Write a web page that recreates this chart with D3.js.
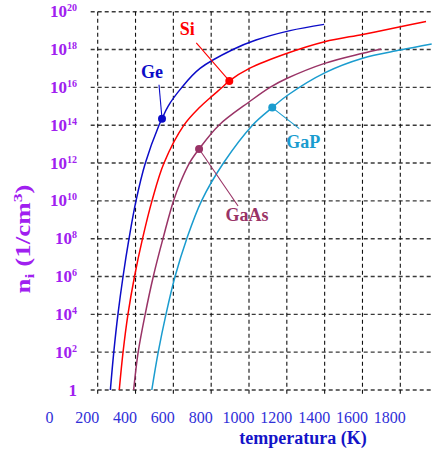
<!DOCTYPE html>
<html>
<head>
<meta charset="utf-8">
<script src="https://cdn.jsdelivr.net/npm/d3@7"></script>
<style>
    body { margin: 0; background: #fff; }
    svg { display: block; }
</style>
</head>
<body>
<div id="chart"></div>
<script>
// values: [temperature K, log10 ni]
const ge   = [[267,0],[285,2],[307,4],[334,6],[365.5,8],[402.5,10],[452,12],[524,14],[540,14.34],[572,15],[645,16],[741,17],[915,18],[1037,18.5],[1217,19],[1397,19.33]];
const si   = [[314,0],[334,2],[360,4],[394.6,6],[437,8],[487,10],[550.6,12],[656,14],[741,14.96],[799,15.49],[857,15.99],[895.8,16.34],[1002,17],[1202,17.8],[1400,18.41],[1601,18.8],[1800,19.2],[1936,19.48]];
const gaas = [[390,0],[414,2],[451,4],[494,6],[545,8],[601,10],[638,11],[685,12],[736,12.74],[841,14],[1002,15.24],[1111,16],[1202,16.48],[1400,17.27],[1601,17.8],[1698,18.03]];
const gap  = [[486,0],[520,2],[561,4],[609,6],[671,8],[749,10],[865,12],[1018.5,14],[1123,14.93],[1202,15.57],[1403,16.78],[1601,17.54],[1800,17.97],[1966,18.29]];

// marked points on each curve
const markers = [
    { name: "Ge",   T: 540,   e: 14.34 },
    { name: "Si",   T: 895.8, e: 16.34 },
    { name: "GaAs", T: 736,   e: 12.74 },
    { name: "GaP",  T: 1123,  e: 14.93 }
];

const xTicks = [0, 200, 400, 600, 800, 1000, 1200, 1400, 1600, 1800];
const yExps  = [0, 2, 4, 6, 8, 10, 12, 14, 16, 18, 20];

const colors = { Ge: "#0c0cc8", Si: "#ff0000", GaAs: "#993366", GaP: "#1a9ccf" };
// leader end / label offsets from the marker (px)
const callout = {
    Ge:   { lx: -3,   ly: -34,  tx: -10, ty: -41 },
    Si:   { lx: -33,  ly: -38,  tx: -42, ty: -46 },
    GaAs: { lx: 39,   ly: 57,   tx: 48,  ty: 72 },
    GaP:  { lx: 27,   ly: 21,   tx: 31,  ty: 40 }
};

const W = 433, H = 450;
const serif = "'Liberation Serif', 'Times New Roman', serif";

const svg = d3.select("#chart").append("svg")
    .attr("width", W)
    .attr("height", H);

const x = d3.scaleLinear().domain([200, 1800]).range([97.7, 400.3]);
const y = d3.scaleLog().domain([1, 1e20]).range([390, 11.7]);
const py = e => y(Math.pow(10, e));

// =============================
// GRID
// =============================
svg.append("g")
    .selectAll("line")
    .data(yExps)
    .enter()
    .append("line")
    .attr("x1", 90.7).attr("x2", W)
    .attr("y1", d => py(d)).attr("y2", d => py(d))
    .attr("stroke", "#3a3a3a")
    .attr("stroke-width", 1.4)
    .attr("stroke-dasharray", "4,3");

svg.append("g")
    .selectAll("line")
    .data(xTicks.filter(d => d > 0))
    .enter()
    .append("line")
    .attr("x1", d => x(d)).attr("x2", d => x(d))
    .attr("y1", 11.7).attr("y2", 394)
    .attr("stroke", "#111")
    .attr("stroke-width", 1.1)
    .attr("stroke-dasharray", "4,3");

// =============================
// AXIS LABELS
// =============================
const yLab = svg.append("g")
    .selectAll("text")
    .data(yExps)
    .enter()
    .append("text")
    .attr("x", 77)
    .attr("y", d => py(d) + 5.5)
    .attr("text-anchor", "end")
    .attr("fill", "#a020f0")
    .attr("font-family", serif)
    .attr("font-weight", "bold")
    .attr("font-size", 17);

yLab.each(function(d) {
    const t = d3.select(this);
    if (d === 0) {
        t.text("1");
    } else {
        t.append("tspan").text("10");
        t.append("tspan").attr("dy", -6).attr("font-size", 10).text(d);
    }
});

svg.append("g")
    .selectAll("text")
    .data(xTicks)
    .enter()
    .append("text")
    .attr("x", d => x(d) - 10.5)
    .attr("y", 422.5)
    .attr("text-anchor", "middle")
    .attr("fill", "#3030d8")
    .attr("font-family", serif)
    .attr("font-size", 16)
    .text(d => d);

svg.append("text")
    .attr("x", 303)
    .attr("y", 444)
    .attr("text-anchor", "middle")
    .attr("fill", "#1414c8")
    .attr("font-family", serif)
    .attr("font-weight", "bold")
    .attr("font-size", 18)
    .text("temperatura (K)");

const yTitle = svg.append("text")
    .attr("transform", "translate(30,239) rotate(-90) scale(1.35,1)")
    .attr("text-anchor", "middle")
    .attr("fill", "#a020f0")
    .attr("font-family", serif)
    .attr("font-weight", "bold")
    .attr("font-size", 20);
yTitle.append("tspan").text("n");
yTitle.append("tspan").attr("dy", 4).attr("font-size", 13).text("i");
yTitle.append("tspan").attr("dy", -4).text("\u00a0(1/cm");
yTitle.append("tspan").attr("dy", -8).attr("font-size", 13).text("3");
yTitle.append("tspan").attr("dy", 8).text(")");

// =============================
// CURVES
// =============================
const line = d3.line()
    .x(d => x(d[0]))
    .y(d => py(d[1]))
    .curve(d3.curveCatmullRom.alpha(0.5));

const series = [
    { name: "Ge", values: ge },
    { name: "Si", values: si },
    { name: "GaAs", values: gaas },
    { name: "GaP", values: gap }
];

svg.append("g")
    .selectAll("path")
    .data(series)
    .enter()
    .append("path")
    .attr("d", d => line(d.values))
    .attr("fill", "none")
    .attr("stroke", d => colors[d.name])
    .attr("stroke-width", 1.5);

// =============================
// MARKERS + CALLOUTS
// =============================
const mk = svg.append("g")
    .selectAll("g")
    .data(markers)
    .enter()
    .append("g")
    .attr("transform", d => `translate(${x(d.T)},${py(d.e)})`);

mk.append("line")
    .attr("x1", 0).attr("y1", 0)
    .attr("x2", d => callout[d.name].lx)
    .attr("y2", d => callout[d.name].ly)
    .attr("stroke", d => colors[d.name])
    .attr("stroke-width", 1.1);

mk.append("circle")
    .attr("r", 4)
    .attr("fill", d => colors[d.name]);

mk.append("text")
    .attr("x", d => callout[d.name].tx)
    .attr("y", d => callout[d.name].ty)
    .attr("text-anchor", "middle")
    .attr("fill", d => colors[d.name])
    .attr("font-family", serif)
    .attr("font-weight", "bold")
    .attr("font-size", 18)
    .text(d => d.name);
</script>
</body>
</html>
